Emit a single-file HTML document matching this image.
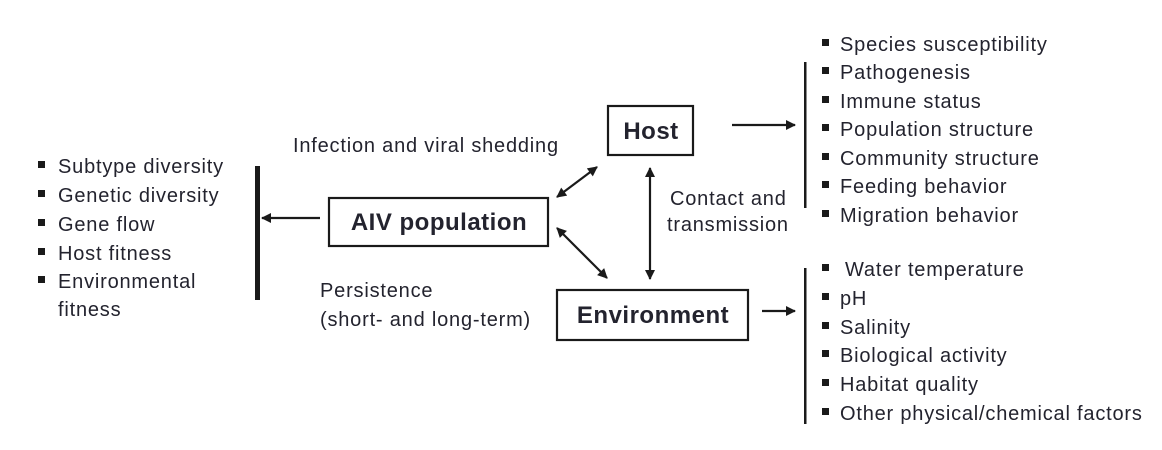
<!DOCTYPE html>
<html><head><meta charset="utf-8"><style>
html,body{margin:0;padding:0;background:#fff;}
svg{display:block;}
text{font-family:"Liberation Sans",Arial,sans-serif;fill:#23232e;}
</style></head><body>
<svg width="1162" height="450" viewBox="0 0 1162 450">
<defs>
<marker id="a" viewBox="0 0 10 10" refX="9" refY="5" markerWidth="11" markerHeight="10" markerUnits="userSpaceOnUse" orient="auto-start-reverse"><path d="M0,0 L10,5 L0,10 z" fill="#1a1a1a"/></marker>
</defs>
<g stroke="#1a1a1a" fill="none" stroke-width="2.2">
<rect x="329" y="198" width="219" height="48"/>
<rect x="608" y="106" width="85" height="49"/>
<rect x="557" y="290" width="191" height="50"/>
<line x1="320" y1="218" x2="262" y2="218" marker-end="url(#a)"/>
<line x1="732" y1="125" x2="795" y2="125" marker-end="url(#a)"/>
<line x1="762" y1="311" x2="795" y2="311" marker-end="url(#a)"/>
<line x1="557" y1="197" x2="597" y2="167" marker-start="url(#a)" marker-end="url(#a)"/>
<line x1="557" y1="228" x2="607" y2="278" marker-start="url(#a)" marker-end="url(#a)"/>
<line x1="650" y1="168" x2="650" y2="279" marker-start="url(#a)" marker-end="url(#a)"/>
</g>
<rect x="255" y="166" width="5" height="134" fill="#1a1a1a"/>
<rect x="804" y="62" width="2.5" height="146" fill="#1a1a1a"/>
<rect x="804" y="268" width="2.5" height="156" fill="#1a1a1a"/>
<g font-size="24" font-weight="bold" text-anchor="middle" letter-spacing="0.5">
<text x="439" y="230">AIV population</text>
<text x="651" y="139">Host</text>
<text x="653" y="323">Environment</text>
</g>
<g font-size="20" letter-spacing="0.8">
<text x="293" y="152">Infection and viral shedding</text>
<text x="670" y="205">Contact and</text>
<text x="667" y="231">transmission</text>
<text x="320" y="297">Persistence</text>
<text x="320" y="326">(short- and long-term)</text>
<text x="58" y="173">Subtype diversity</text>
<text x="58" y="202">Genetic diversity</text>
<text x="58" y="231">Gene flow</text>
<text x="58" y="260">Host fitness</text>
<text x="58" y="288">Environmental</text>
<text x="58" y="316">fitness</text>
<text x="840" y="51">Species susceptibility</text>
<text x="840" y="79">Pathogenesis</text>
<text x="840" y="108">Immune status</text>
<text x="840" y="136">Population structure</text>
<text x="840" y="165">Community structure</text>
<text x="840" y="193">Feeding behavior</text>
<text x="840" y="222">Migration behavior</text>
<text x="845" y="276">Water temperature</text>
<text x="840" y="305">pH</text>
<text x="840" y="334">Salinity</text>
<text x="840" y="362">Biological activity</text>
<text x="840" y="391">Habitat quality</text>
<text x="840" y="420">Other physical/chemical factors</text>
</g>
<g fill="#1a1a1a">
<rect x="38" y="161" width="7" height="7"/><rect x="38" y="190" width="7" height="7"/><rect x="38" y="219" width="7" height="7"/><rect x="38" y="248" width="7" height="7"/><rect x="38" y="276" width="7" height="7"/>
<rect x="822" y="39" width="7" height="7"/><rect x="822" y="67" width="7" height="7"/><rect x="822" y="96" width="7" height="7"/><rect x="822" y="124" width="7" height="7"/><rect x="822" y="153" width="7" height="7"/><rect x="822" y="181" width="7" height="7"/><rect x="822" y="210" width="7" height="7"/>
<rect x="822" y="264" width="7" height="7"/><rect x="822" y="293" width="7" height="7"/><rect x="822" y="322" width="7" height="7"/><rect x="822" y="350" width="7" height="7"/><rect x="822" y="379" width="7" height="7"/><rect x="822" y="408" width="7" height="7"/>
</g>
</svg>
</body></html>
